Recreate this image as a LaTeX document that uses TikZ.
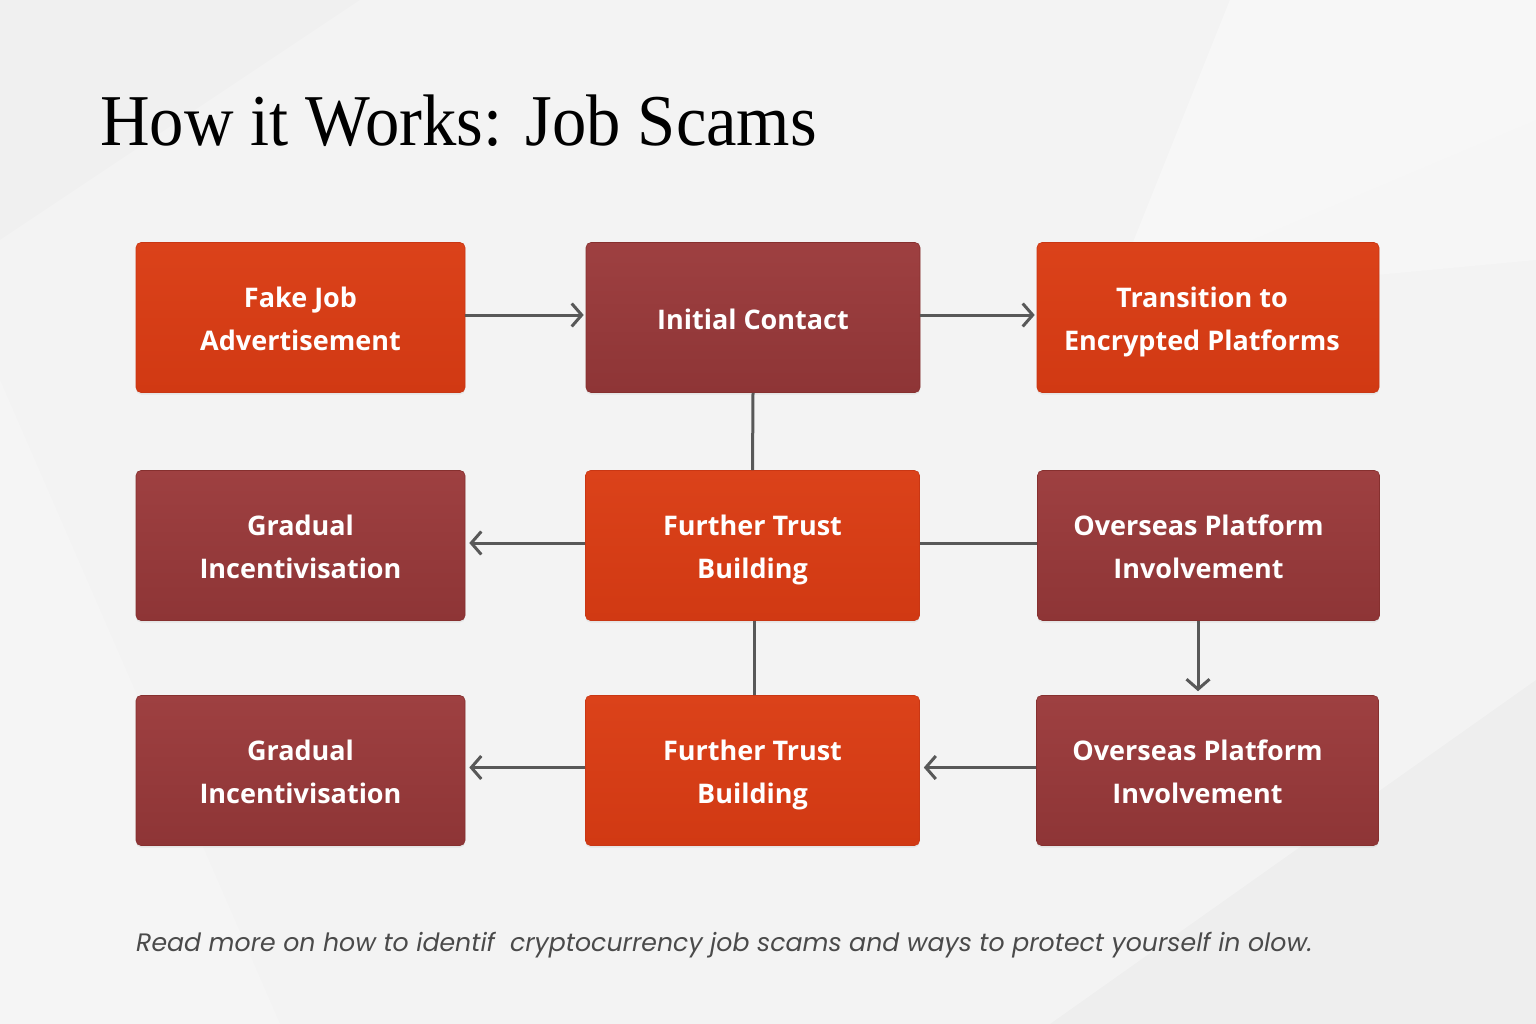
\documentclass[tikz,border=0pt]{standalone}
\usepackage{fontspec}
\setmainfont{Liberation Serif}
\newfontfamily\titlefont[FakeStretch=0.94]{Liberation Serif}
\newfontfamily\boxfont{Open Sans}
\newfontfamily\footfont{Poppins}
\usetikzlibrary{arrows.meta,shadows}
\newcommand\bxs{\rule[-10pt]{0pt}{43pt}}
\definecolor{bg}{HTML}{F3F3F3}
\definecolor{orT}{HTML}{DB421A}
\definecolor{orB}{HTML}{D13913}
\definecolor{orD}{HTML}{C93714}
\definecolor{rdT}{HTML}{9E4041}
\definecolor{rdB}{HTML}{8E3536}
\definecolor{rdD}{HTML}{86302F}
\definecolor{conn}{HTML}{585858}
\definecolor{foot}{HTML}{4A4A4A}
\tikzset{
  box/.style={rectangle, rounded corners=5pt, minimum height=150pt, align=center,
    text=white, font=\boxfont\bfseries\fontsize{27}{43}\selectfont,
    drop shadow={opacity=0.12, shadow xshift=0pt, shadow yshift=-2pt}},
  orbox/.style={box, top color=orT, bottom color=orB, draw=orD, line width=0.6pt},
  rdbox/.style={box, top color=rdT, bottom color=rdB, draw=rdD, line width=0.6pt},
  wide1/.style={minimum width=329pt},
  wide2/.style={minimum width=334pt},
  wide3/.style={minimum width=342pt},
  link/.style={draw=conn, line width=3pt},
  arr/.style={link, -{Straight Barb[length=10pt,width=23pt,line width=3pt]}, shorten >=2pt},
}
\begin{document}
\begin{tikzpicture}[x=1pt,y=-1pt]
\useasboundingbox (0,0) rectangle (1536,1024);
\fill[bg] (0,0) rectangle (1536,1024);
% subtle background facets
\fill[white,opacity=0.4] (1230,0) -- (1536,0) -- (1536,120) -- (1110,300) -- cycle;
\fill[white,opacity=0.25] (1110,300) -- (1536,120) -- (1536,260) -- cycle;
\fill[black,opacity=0.02] (1536,680) -- (1536,1024) -- (1050,1024) -- cycle;
\fill[white,opacity=0.2] (0,380) -- (280,1024) -- (0,1024) -- cycle;
\fill[black,opacity=0.01] (0,0) -- (360,0) -- (0,240) -- cycle;

% title
\node[anchor=base west, inner sep=0pt, font=\titlefont\fontsize{73}{80}\selectfont, text=black] (title) at (100,146) {How it Works: Job Scams};

% row 1
\node[orbox, wide1] (fj) at (300.5,317.5) {\bxs Fake Job\\\bxs Advertisement};
\node[rdbox, wide2] (ic) at (753,317.5) {\bxs Initial Contact};
\node[orbox, wide3] (tr) at (1208,317.5) {\bxs\hspace*{-12pt}Transition to\\\bxs\hspace*{-12pt}Encrypted Platforms};
% row 2
\node[rdbox, wide1] (g1) at (300.5,545.5) {\bxs Gradual\\\bxs Incentivisation};
\node[orbox, wide2] (ft1) at (752.5,545.5) {\bxs Further Trust\\\bxs Building};
\node[rdbox, wide3] (o1) at (1208.5,545.5) {\bxs\hspace*{-20pt}Overseas Platform\\\bxs\hspace*{-20pt}Involvement};
% row 3
\node[rdbox, wide1] (g2) at (300.5,770.5) {\bxs Gradual\\\bxs Incentivisation};
\node[orbox, wide2] (ft2) at (752.5,770.5) {\bxs Further Trust\\\bxs Building};
\node[rdbox, wide3] (o2) at (1207.5,770.5) {\bxs\hspace*{-20pt}Overseas Platform\\\bxs\hspace*{-20pt}Involvement};

\coordinate (xc) at (1198,0);

% connectors
\draw[arr] ([yshift=2.5pt]fj.east) -- ([yshift=2.5pt]ic.west);
\draw[arr] ([yshift=2.5pt]ic.east) -- ([yshift=2.5pt]tr.west);
\draw[link] (ic.south) -- (ft1.north);
\draw[arr, shorten >=4pt] ([yshift=2.5pt]ft1.west) -- ([yshift=2.5pt]g1.east);
\draw[link] ([yshift=2.5pt]o1.west) -- ([yshift=2.5pt]ft1.east);
\draw[arr, shorten >=4pt] (o1.south -| xc) -- (o2.north -| xc);
\draw[link] ([xshift=2pt]ft1.south) -- ([xshift=2pt]ft2.north);
\draw[arr, shorten >=4pt] ([yshift=3pt]ft2.west) -- ([yshift=3pt]g2.east);
\draw[arr, shorten >=4pt] ([yshift=3pt]o2.west) -- ([yshift=3pt]ft2.east);

% footer
\node[anchor=base west, inner sep=0pt, text=foot, font=\footfont\itshape\fontsize{25.2}{29}\selectfont] (ft) at (136,951) {Read more on how to identif~ cryptocurrency job scams and ways to protect yourself in olow.};
\end{tikzpicture}
\end{document}
